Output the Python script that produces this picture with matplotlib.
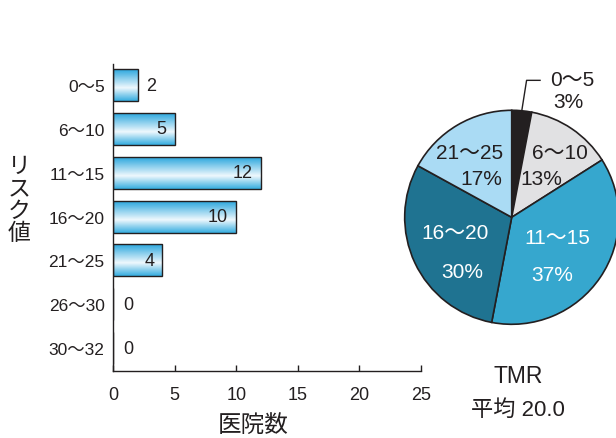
import numpy as np
import matplotlib
matplotlib.use("Agg")
import matplotlib.pyplot as plt
from matplotlib.colors import LinearSegmentedColormap

plt.rcParams['font.family'] = ['Liberation Sans', 'Noto Sans CJK JP']

# リスク値ごとの医院数
risk_labels = ['0～5', '6～10', '11～15', '16～20', '21～25', '26～30', '30～32']
clinic_counts = [2, 5, 12, 10, 4, 0, 0]

# 円グラフ（割合）
pie_labels = ['0～5', '6～10', '11～15', '16～20', '21～25']
pie_pcts = [3, 13, 37, 30, 17]
pie_colors = ['#231f20', '#e1e1e3', '#36a7ce', '#1f7391', '#aadbf4']
pie_text_colors = ['#231f20', '#231f20', 'white', 'white', '#231f20']

xticks = [0, 5, 10, 15, 20, 25]
tmr_mean = 20.0

txt = '#231f20'

fig = plt.figure(figsize=(6.16, 4.39), dpi=100)

# --- 棒グラフ ---
ax = fig.add_axes([113/616, 1-372/439, 308/616, 307/439])
y = np.arange(len(risk_labels))
bars = ax.barh(y, clinic_counts, height=0.73, facecolor='none',
               edgecolor=txt, linewidth=1.0, zorder=3)

grad = LinearSegmentedColormap.from_list(
    'barfill', [(0.0, '#22a3dc'), (0.6, '#eef8fd'), (1.0, '#36ade0')])
gimg = np.linspace(0, 1, 64).reshape(-1, 1)
for b, v in zip(bars, clinic_counts):
    if v <= 0:
        continue
    x0, y0 = b.get_x(), b.get_y()
    w, h = b.get_width(), b.get_height()
    im = ax.imshow(gimg, cmap=grad, aspect='auto', origin='upper',
                   extent=[x0, x0 + w, y0 + h, y0], zorder=2)
    im.set_clip_path(b)

for yi, v in zip(y, clinic_counts):
    if v >= 4:
        ax.text(v - 0.65, yi, str(v), ha='right', va='center',
                fontsize=13, color=txt, zorder=4)
    elif v > 0:
        ax.text(v + 0.65, yi, str(v), ha='left', va='center',
                fontsize=13, color=txt, zorder=4)
    else:
        ax.text(0.8, yi, str(v), ha='left', va='center',
                fontsize=13, color=txt, zorder=4)

ax.set_xlim(0, 25)
ax.set_ylim(6.52, -0.48)
ax.set_yticks(y)
ax.set_yticklabels(risk_labels, fontsize=12.5, color=txt)
ax.set_xticks(xticks)
ax.set_xticklabels([str(t) for t in xticks], fontsize=13, color=txt)
ax.tick_params(axis='y', length=0, pad=6)
ax.tick_params(axis='x', direction='in', length=4, width=1, color=txt, pad=11)
for s in ['top', 'right']:
    ax.spines[s].set_visible(False)
for s in ['left', 'bottom']:
    ax.spines[s].set_color(txt)
    ax.spines[s].set_linewidth(1.0)
ax.set_xlabel('医院数', fontsize=17, color=txt, labelpad=8, x=0.455)

fig.text(19/616, 1-200/439, '\n'.join('リスク値'), ha='center', va='center',
         fontsize=16.5, color=txt, linespacing=0.98)

# --- 円グラフ ---
r_px = 107
cx, cy = 511.7, 218.3
pax = fig.add_axes([(cx - r_px)/616, (439 - cy - r_px)/439, 2*r_px/616, 2*r_px/439])
wedges, _ = pax.pie(pie_pcts, colors=pie_colors, startangle=90,
                    counterclock=False,
                    wedgeprops=dict(edgecolor=txt, linewidth=1.2))
pax.set_xlim(-1, 1)
pax.set_ylim(-1, 1)
pax.set_aspect('equal')
pax.axis('off')
for w in wedges:
    w.set_clip_on(False)

# ラベル位置（円の半径を1とした座標）: (名称, 割合)
label_pos = [
    ((0.57, 1.29), (0.53, 1.08)),
    ((0.45, 0.61), (0.28, 0.36)),
    ((0.43, -0.19), (0.38, -0.53)),
    ((-0.53, -0.14), (-0.46, -0.51)),
    ((-0.39, 0.61), (-0.28, 0.36)),
]

for w, lab, p, tc, (npos, ppos) in zip(wedges, pie_labels, pie_pcts,
                                       pie_text_colors, label_pos):
    if p < 5:
        # 小さい扇形は外側に引き出し線
        ang = np.deg2rad((w.theta1 + w.theta2) / 2)
        x1, y1 = np.cos(ang), np.sin(ang)
        pax.plot([x1, x1 + 0.045, 0.265], [y1, 1.28, 1.28], color=txt,
                 linewidth=1.0, clip_on=False)
    pax.text(*npos, lab, ha='center', va='center', fontsize=15, color=tc)
    pax.text(*ppos, f'{p}%', ha='center', va='center', fontsize=15, color=tc)

fig.text(518/616, 1-377/439, 'TMR', ha='center', va='center',
         fontsize=16.5, color=txt)
fig.text(518/616, 1-410/439, f'平均 {tmr_mean:.1f}', ha='center', va='center',
         fontsize=16, color=txt)

fig.savefig('out.png', dpi=100)
